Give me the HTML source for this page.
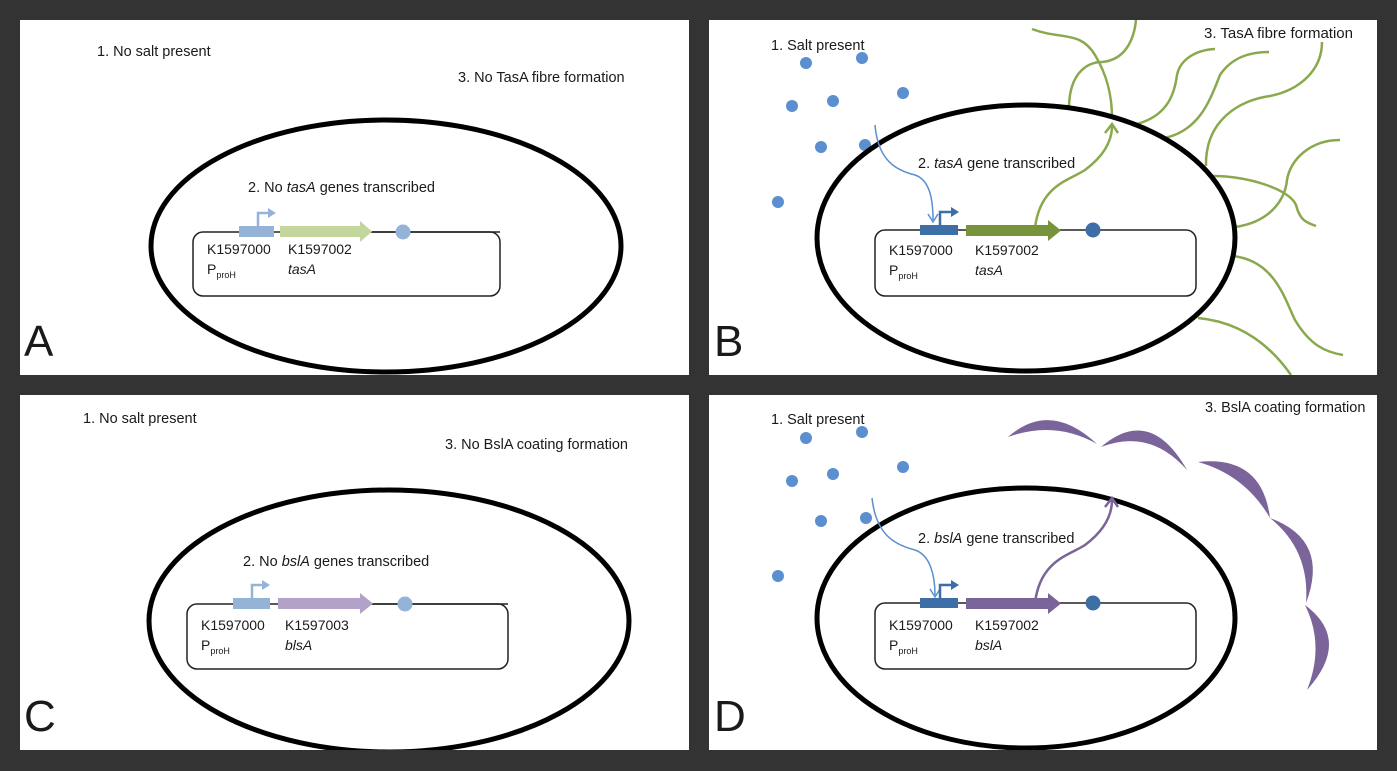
<!DOCTYPE html>
<html><head><meta charset="utf-8"><style>
html,body{margin:0;padding:0;background:#333;}
svg{display:block;}
text{font-family:"Liberation Sans",sans-serif;fill:#1a1a1a;}
</style></head><body>
<svg width="1397" height="771" viewBox="0 0 1397 771">
<rect width="1397" height="771" fill="#333"/>
<defs>
<clipPath id="cA"><rect x="20" y="20" width="669" height="355"/></clipPath>
<clipPath id="cB"><rect x="709" y="20" width="668" height="355"/></clipPath>
<clipPath id="cC"><rect x="20" y="395" width="669" height="355"/></clipPath>
<clipPath id="cD"><rect x="709" y="395" width="668" height="355"/></clipPath>
</defs>

<!-- Panel A -->
<g clip-path="url(#cA)">
<rect x="20" y="20" width="669" height="355" fill="#fff"/>
<ellipse cx="386" cy="246" rx="235" ry="126" fill="none" stroke="#000" stroke-width="5"/>
<rect x="193" y="232" width="307" height="64" rx="10" fill="none" stroke="#222" stroke-width="1.5"/>
<line x1="372" y1="232" x2="500" y2="232" stroke="#222" stroke-width="1.5"/>
<rect x="239" y="226" width="35" height="11" fill="#95b3d7"/>
<path d="M258,226 V213 H270" fill="none" stroke="#95b3d7" stroke-width="2.5"/>
<path d="M268,208 L276,213 L268,218Z" fill="#95b3d7"/>
<path d="M280,226 H360 V221 L372,231.5 L360,242 V237 H280Z" fill="#c3d69b"/>
<circle cx="403" cy="232" r="7.5" fill="#95b3d7"/>
<text x="97" y="56" font-size="14.5">1. No salt present</text>
<text x="458" y="82" font-size="14.5">3. No TasA fibre formation</text>
<text x="248" y="192" font-size="14.5">2. No <tspan font-style="italic">tasA</tspan> genes transcribed</text>
<text x="207" y="254" font-size="14">K1597000</text>
<text x="207" y="274" font-size="14">P<tspan font-size="9" dy="4">proH</tspan></text>
<text x="288" y="254" font-size="14">K1597002</text>
<text x="288" y="274" font-size="14" font-style="italic">tasA</text>
<text x="24" y="356" font-size="44">A</text>
</g>

<!-- Panel B -->
<g clip-path="url(#cB)">
<rect x="709" y="20" width="668" height="355" fill="#fff"/>
<g fill="#5b8fcf">
<circle cx="806" cy="63" r="6"/><circle cx="862" cy="58" r="6"/><circle cx="792" cy="106" r="6"/><circle cx="833" cy="101" r="6"/><circle cx="903" cy="93" r="6"/><circle cx="821" cy="147" r="6"/><circle cx="865" cy="145" r="6"/><circle cx="778" cy="202" r="6"/>
</g>
<g fill="none" stroke="#8aa84e" stroke-width="2.5">
<path d="M1069,106 C1070,70 1090,62 1102,62 C1125,60 1134,40 1136,20"/>
<path d="M1032,29 C1060,40 1080,30 1095,55 C1107,75 1112,95 1112,118"/>
<path d="M1137,124 C1170,115 1175,90 1177,75 C1180,60 1195,50 1215,49"/>
<path d="M1165,138 C1200,130 1210,100 1220,75 C1232,57 1250,52 1269,52"/>
<path d="M1206,166 C1205,120 1240,100 1270,96 C1300,90 1322,70 1322,42"/>
<path d="M1212,176 C1250,176 1290,190 1296,205 C1300,220 1305,222 1316,226"/>
<path d="M1235,227 C1270,222 1285,200 1287,180 C1290,160 1310,140 1340,140"/>
<path d="M1232,256 C1275,260 1285,300 1295,320 C1310,345 1325,352 1343,355"/>
<path d="M1198,318 C1240,322 1270,345 1291,375"/>
<path d="M1035,228 C1040,185 1070,180 1085,170 C1105,155 1112,140 1112,126"/>
<path d="M1105,133 L1112,124 L1118,133"/>
</g>
<ellipse cx="1026" cy="238" rx="209" ry="133" fill="none" stroke="#000" stroke-width="5"/>
<path d="M875,125 C878,160 895,170 915,175 C930,180 933,200 933,220" fill="none" stroke="#5b8fcf" stroke-width="1.5"/>
<path d="M928,214 L933,222 L938,214" fill="none" stroke="#5b8fcf" stroke-width="1.5"/>
<rect x="875" y="230" width="321" height="66" rx="10" fill="none" stroke="#222" stroke-width="1.5"/>
<rect x="920" y="225" width="38" height="10" fill="#3d6ea6"/>
<path d="M940,225 V212 H953" fill="none" stroke="#3d6ea6" stroke-width="2.5"/>
<path d="M951,207 L959,212 L951,217Z" fill="#3d6ea6"/>
<path d="M966,225 H1048 V220 L1061,230.5 L1048,241 V236 H966Z" fill="#77933c"/>
<circle cx="1093" cy="230" r="7.5" fill="#3d6ea6"/>
<text x="771" y="50" font-size="14.5">1. Salt present</text>
<text x="1204" y="38" font-size="15">3. TasA fibre formation</text>
<text x="918" y="168" font-size="14.5">2. <tspan font-style="italic">tasA</tspan> gene transcribed</text>
<text x="889" y="255" font-size="14">K1597000</text>
<text x="889" y="275" font-size="14">P<tspan font-size="9" dy="4">proH</tspan></text>
<text x="975" y="255" font-size="14">K1597002</text>
<text x="975" y="275" font-size="14" font-style="italic">tasA</text>
<text x="714" y="356" font-size="44">B</text>
</g>

<!-- Panel C -->
<g clip-path="url(#cC)">
<rect x="20" y="395" width="669" height="355" fill="#fff"/>
<ellipse cx="389" cy="621" rx="240" ry="131" fill="none" stroke="#000" stroke-width="5"/>
<rect x="187" y="604" width="321" height="65" rx="10" fill="none" stroke="#222" stroke-width="1.5"/>
<line x1="372" y1="604" x2="508" y2="604" stroke="#222" stroke-width="1.5"/>
<rect x="233" y="598" width="37" height="11" fill="#95b3d7"/>
<path d="M252,598 V585 H264" fill="none" stroke="#95b3d7" stroke-width="2.5"/>
<path d="M262,580 L270,585 L262,590Z" fill="#95b3d7"/>
<path d="M278,598 H360 V593 L373,603.5 L360,614 V609 H278Z" fill="#b3a2c7"/>
<circle cx="405" cy="604" r="7.5" fill="#95b3d7"/>
<text x="83" y="423" font-size="14.5">1. No salt present</text>
<text x="445" y="449" font-size="14.5">3. No BslA coating formation</text>
<text x="243" y="566" font-size="14.5">2. No <tspan font-style="italic">bslA</tspan> genes transcribed</text>
<text x="201" y="630" font-size="14">K1597000</text>
<text x="201" y="650" font-size="14">P<tspan font-size="9" dy="4">proH</tspan></text>
<text x="285" y="630" font-size="14">K1597003</text>
<text x="285" y="650" font-size="14" font-style="italic">blsA</text>
<text x="24" y="731" font-size="44">C</text>
</g>

<!-- Panel D -->
<g clip-path="url(#cD)">
<rect x="709" y="395" width="668" height="355" fill="#fff"/>
<g fill="#5b8fcf">
<circle cx="806" cy="438" r="6"/><circle cx="862" cy="432" r="6"/><circle cx="792" cy="481" r="6"/><circle cx="833" cy="474" r="6"/><circle cx="903" cy="467" r="6"/><circle cx="821" cy="521" r="6"/><circle cx="866" cy="518" r="6"/><circle cx="778" cy="576" r="6"/>
</g>
<g fill="#7a6499">
<path d="M1008,437 Q1050,400 1097,444 Q1055,420 1008,437Z"/>
<path d="M1101,447 Q1150,405 1187,470 Q1150,428 1101,447Z"/>
<path d="M1198,462 Q1262,455 1270,518 Q1245,475 1198,462Z"/>
<path d="M1270,518 Q1330,540 1306,603 Q1310,550 1270,518Z"/>
<path d="M1305,605 Q1352,640 1307,690 Q1325,645 1305,605Z"/>
</g>
<ellipse cx="1026" cy="618" rx="209" ry="130" fill="none" stroke="#000" stroke-width="5"/>
<path d="M1035,603 C1040,560 1070,555 1085,545 C1105,530 1112,515 1112,500" fill="none" stroke="#7a6499" stroke-width="2.5"/>
<path d="M1105,507 L1112,498 L1118,507" fill="none" stroke="#7a6499" stroke-width="2.5"/>
<path d="M872,498 C876,535 895,545 915,550 C930,555 935,575 935,595" fill="none" stroke="#5b8fcf" stroke-width="1.5"/>
<path d="M930,589 L935,597 L940,589" fill="none" stroke="#5b8fcf" stroke-width="1.5"/>
<rect x="875" y="603" width="321" height="66" rx="10" fill="none" stroke="#222" stroke-width="1.5"/>
<rect x="920" y="598" width="38" height="10" fill="#3d6ea6"/>
<path d="M940,598 V585 H953" fill="none" stroke="#3d6ea6" stroke-width="2.5"/>
<path d="M951,580 L959,585 L951,590Z" fill="#3d6ea6"/>
<path d="M966,598 H1048 V593 L1061,603.5 L1048,614 V609 H966Z" fill="#7a6499"/>
<circle cx="1093" cy="603" r="7.5" fill="#3d6ea6"/>
<text x="771" y="424" font-size="14.5">1. Salt present</text>
<text x="1205" y="412" font-size="14.5">3. BslA coating formation</text>
<text x="918" y="543" font-size="14.5">2. <tspan font-style="italic">bslA</tspan> gene transcribed</text>
<text x="889" y="630" font-size="14">K1597000</text>
<text x="889" y="650" font-size="14">P<tspan font-size="9" dy="4">proH</tspan></text>
<text x="975" y="630" font-size="14">K1597002</text>
<text x="975" y="650" font-size="14" font-style="italic">bslA</text>
<text x="714" y="731" font-size="44">D</text>
</g>
</svg>
</body></html>
